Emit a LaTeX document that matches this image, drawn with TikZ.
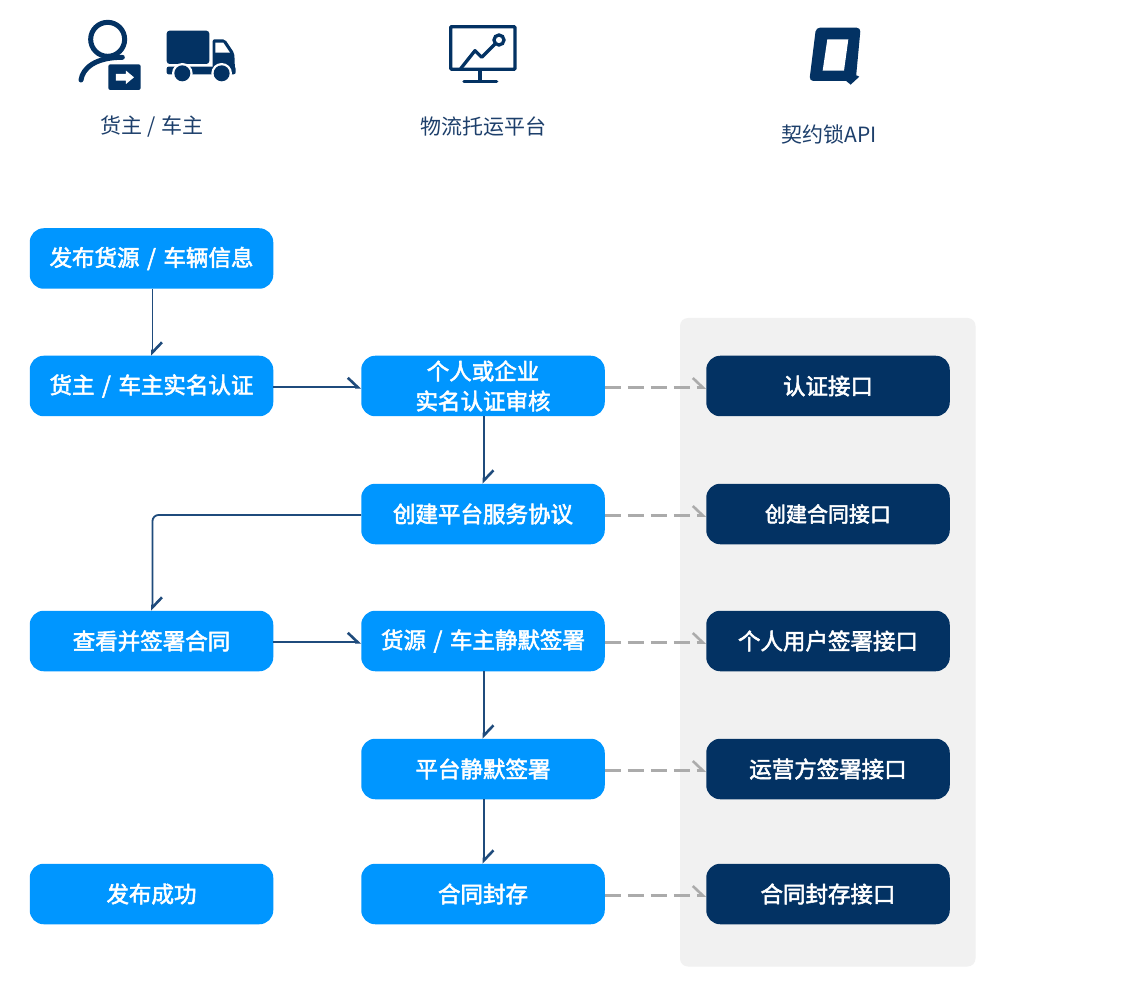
\documentclass[tikz,border=0pt]{standalone}
\usepackage{fontspec}
\setmainfont{Noto Sans CJK SC}
\newfontfamily\boxfont[FakeBold=2.4]{Noto Sans CJK SC}
\usetikzlibrary{arrows.meta}
\definecolor{navy}{HTML}{033263}
\definecolor{brightblue}{HTML}{0096FF}
\definecolor{panelgray}{HTML}{F1F1F1}
\definecolor{linkblue}{HTML}{1F4B7C}
\definecolor{dashgray}{HTML}{ABABAB}
\definecolor{headtext}{HTML}{1D3F6B}
\newcommand{\lowtext}[1]{\raisebox{-1pt}{#1}}
\newcommand{\widesep}{\kern2.5pt\ /\ \kern2.5pt}
\tikzset{
  flowbox/.style={rectangle,rounded corners=14pt,minimum width=243.5pt,minimum height=60.5pt,inner sep=0pt,
    align=center,text=white,font=\fontsize{22.5}{30}\boxfont},
  lightbox/.style={flowbox,fill=brightblue},
  darkbox/.style={flowbox,fill=navy},
  headlabel/.style={text=headtext,font=\fontsize{21}{24}\selectfont,inner sep=0pt},
  flowarrow/.style={draw=linkblue,line width=1.8pt,-{Straight Barb[harpoon,length=10pt,width=19pt,line width=2.6pt]}},
  apiarrow/.style={draw=dashgray,line width=2.3pt,dash pattern=on 16pt off 7pt,-{Straight Barb[harpoon,length=10pt,width=19pt,line width=2.6pt]}},
  iconline/.style={draw=navy,line width=3.3pt,fill=none},
  iconfill/.style={fill=navy,draw=none}
}
\begin{document}
\begin{tikzpicture}[x=1pt,y=-1pt]
\useasboundingbox (0,0) rectangle (1128,992);
\fill[white] (0,0) rectangle (1128,992);
\fill[panelgray,rounded corners=8pt] (680,318) rectangle (975.5,966.5);

% person icon
\begin{scope}[shift={(60,0)},x=0.3333pt,y=-0.3333pt]
  \draw[iconline,line width=5pt] (143,118) circle (51);
  \draw[iconline,line width=5pt,line cap=round] (63,240) .. controls (68,205) and (105,172) .. (187,172);
  \fill[iconfill,rounded corners=2pt] (145,193) rectangle (242,270);
  \fill[white] (168,222) -- (198,222) -- (198,212) -- (222,232) -- (198,252) -- (198,242) -- (168,242) -- cycle;
  % truck
  \fill[iconfill,rounded corners=3pt] (320,92) rectangle (448,192);
  \fill[iconfill,rounded corners=2pt] (320,200) rectangle (527,223);
  \fill[iconfill,rounded corners=2pt] (458,118) -- (495,118) -- (523,160) -- (525,210) -- (458,210) -- cycle;
  \fill[white] (466,128) -- (490,128) -- (510,158) -- (466,158) -- cycle;
  \fill[white] (367,220) circle (31);
  \fill[white] (485,220) circle (31);
  \fill[iconfill] (367,220) circle (24);
  \fill[iconfill] (485,220) circle (24);
\end{scope}
% monitor icon
\begin{scope}[shift={(400,0)},x=0.3333pt,y=-0.3333pt]
  \draw[iconline,rounded corners=1pt] (152,80) rectangle (345,208);
  \draw[iconline] (240,208) -- (240,245);
  \draw[iconline,line cap=round] (192,245) -- (290,245);
  \draw[iconline,line join=round] (182,206) -- (225,152) -- (245,172) -- (286,131);
  \draw[iconline] (297,120) circle (15);
\end{scope}
% Q icon
\begin{scope}[shift={(770,0)},x=0.3333pt,y=-0.3333pt]
  \fill[iconfill,rounded corners=4pt] (138,83) -- (272,83) -- (257,243) -- (118,243) -- cycle;
  \fill[iconfill] (250,222) -- (268,230) -- (242,254) -- (225,240) -- cycle;
  \fill[white] (172,118) -- (158,212) -- (222,212) -- (235,118) -- cycle;
\end{scope}

\node[headlabel] (h1) at (152,126.5) {货主\kern1pt\ /\ \kern1pt车主};
\node[headlabel] (h2) at (483.5,126.5) {物流托运平台};
\node[headlabel] (h3) at (829.5,134.5) {契约锁API};

\node[lightbox] (a1) at (151.5,258.5) {\lowtext{发布货源\widesep 车辆信息}};
\node[lightbox] (a2) at (151.5,386) {\lowtext{货主\widesep 车主实名认证}};
\node[lightbox] (a4) at (151.5,641) {\lowtext{查看并签署合同}};
\node[lightbox] (a6) at (151.5,894) {\lowtext{发布成功}};

\node[lightbox] (b2) at (483,386) {\lowtext{个人或企业}\\\lowtext{实名认证审核}};
\node[lightbox] (b3) at (483,514) {\lowtext{创建平台服务协议}};
\node[lightbox] (b4) at (483,641) {\lowtext{货源\widesep 车主静默签署}};
\node[lightbox] (b5) at (483,769) {\lowtext{平台静默签署}};
\node[lightbox] (b6) at (483,894) {\lowtext{合同封存}};

\node[darkbox] (c2) at (828,386) {\lowtext{认证接口}};
\node[darkbox] (c3) at (828,514) {\fontsize{21}{30}\boxfont\lowtext{创建合同接口}};
\node[darkbox] (c4) at (828,641) {\lowtext{个人用户签署接口}};
\node[darkbox] (c5) at (828,769) {\lowtext{运营方签署接口}};
\node[darkbox] (c6) at (828,894) {\lowtext{合同封存接口}};

\draw[flowarrow] ([xshift=1pt]a1.south) -- ([xshift=1pt]a2.north);
\draw[flowarrow] ([yshift=-1.3pt]a2.east) -- ([yshift=-1.3pt]b2.west);
\draw[flowarrow] ([xshift=1pt]b2.south) -- ([xshift=1pt]b3.north);
\draw[flowarrow,rounded corners=6pt] ([yshift=-1pt]b3.west) -| ([xshift=1pt]a4.north);
\draw[flowarrow] ([yshift=-1.3pt]a4.east) -- ([yshift=-1.3pt]b4.west);
\draw[flowarrow] ([xshift=1pt]b4.south) -- ([xshift=1pt]b5.north);
\draw[flowarrow] ([xshift=1pt]b5.south) -- ([xshift=1pt]b6.north);

\draw[apiarrow] ([yshift=-1.5pt]b2.east) -- ([yshift=-1.5pt]c2.west);
\draw[apiarrow] ([yshift=-1.5pt]b3.east) -- ([yshift=-1.5pt]c3.west);
\draw[apiarrow] ([yshift=-1.5pt]b4.east) -- ([yshift=-1.5pt]c4.west);
\draw[apiarrow] ([yshift=-1.5pt]b5.east) -- ([yshift=-1.5pt]c5.west);
\draw[apiarrow] ([yshift=-1.5pt]b6.east) -- ([yshift=-1.5pt]c6.west);
\end{tikzpicture}
\end{document}
